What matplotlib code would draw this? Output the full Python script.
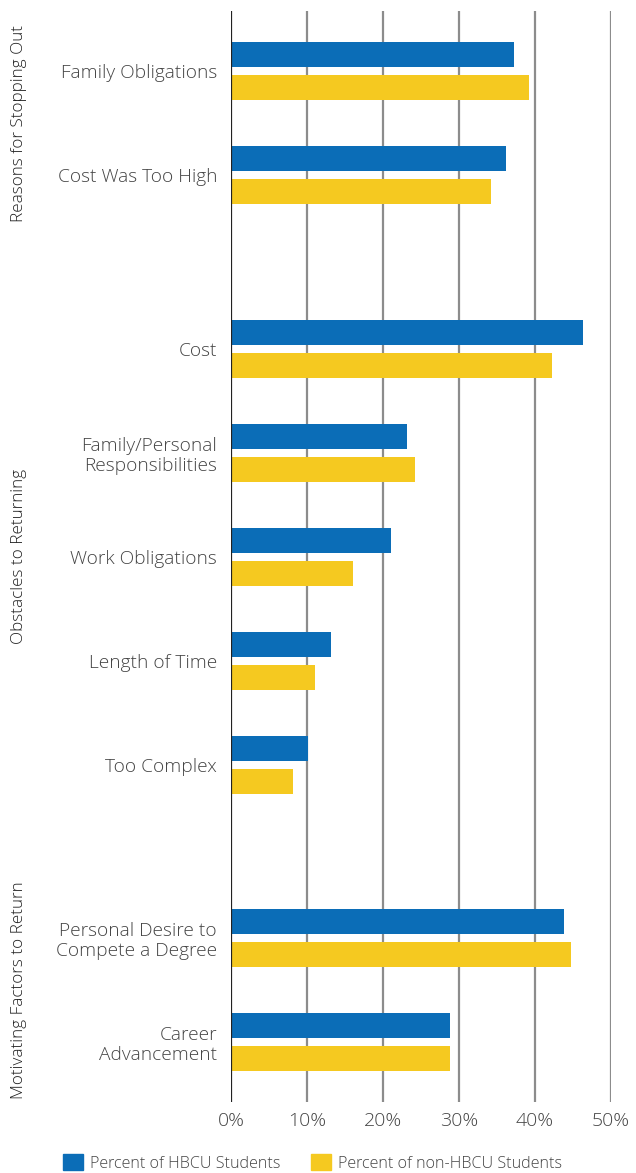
import numpy as np
import matplotlib.pyplot as plt
from matplotlib.patches import Patch
from matplotlib.transforms import blended_transform_factory

plt.rcParams['font.family'] = ['Open Sans', 'DejaVu Sans']

sections = ['Reasons for Stopping Out', 'Obstacles to Returning', 'Motivating Factors to Return']
categories = ['Family Obligations', 'Cost Was Too High',
              'Cost', 'Family/Personal\nResponsibilities', 'Work Obligations',
              'Length of Time', 'Too Complex',
              'Personal Desire to\nCompete a Degree', 'Career\nAdvancement']
section_of = [0, 0, 1, 1, 1, 1, 1, 2, 2]
hbcu = [37.2, 36.2, 46.3, 23.2, 21.1, 13.2, 10.1, 43.8, 28.8]
non_hbcu = [39.2, 34.2, 42.2, 24.2, 16.1, 11.1, 8.1, 44.7, 28.8]
xticks = [0, 10, 20, 30, 40, 50]
xticklabels = ['0%', '10%', '20%', '30%', '40%', '50%']

blue = '#0B6DB7'
yellow = '#F5C920'
txt = '#444444'

fig = plt.figure(figsize=(6.36, 11.73), dpi=100)
ax = fig.add_axes([231 / 636, 1 - 1102 / 1173, (611 - 231) / 636, (1102 - 11) / 1173])

# group positions with extra gap between sections
pos = np.arange(len(categories)) + 0.67 * np.array(section_of)
off = 0.16
h = 0.24
ax.barh(pos - off, hbcu, height=h, color=blue, zorder=3)
ax.barh(pos + off, non_hbcu, height=h, color=yellow, zorder=3)

ax.set_xlim(0, 50)
ax.set_ylim(pos[-1] + 0.575, pos[0] - 0.58)
for t in xticks[1:]:
    ax.axvline(t, color='#8C8C8C', lw=1.6, zorder=1)
ax.axvline(0, color='#222222', lw=1.6, zorder=4)

for s in ax.spines.values():
    s.set_visible(False)
ax.set_xticks(xticks)
ax.set_xticklabels(xticklabels, fontsize=14, color=txt)
ax.set_yticks(pos)
ax.set_yticklabels(categories, fontsize=13.8, color=txt, linespacing=1.15)
ax.tick_params(length=0)
ax.tick_params(axis='y', pad=10)
ax.tick_params(axis='x', pad=7)
for lab in ax.get_yticklabels() + ax.get_xticklabels():
    lab.set_fontweight('light')

# section labels on the left
tr = blended_transform_factory(fig.transFigure, ax.transData)
for k, name in enumerate(sections):
    p = pos[np.array(section_of) == k]
    ax.text(19 / 636, p.mean(), name, transform=tr, rotation=90,
            ha='center', va='center', fontsize=12.3, color='#222222',
            fontweight='light')

handles = [Patch(color=blue, label='Percent of HBCU Students'),
           Patch(color=yellow, label='Percent of non-HBCU Students')]
fig.legend(handles=handles, loc='center', bbox_to_anchor=(0.491, 0.0085), ncol=2,
           frameon=False, handlelength=1.24, handleheight=1.1,
           handletextpad=0.43, columnspacing=1.9, labelcolor=txt,
           prop={'weight': 'light', 'size': 11.6})

fig.savefig('out.png', dpi=100)
